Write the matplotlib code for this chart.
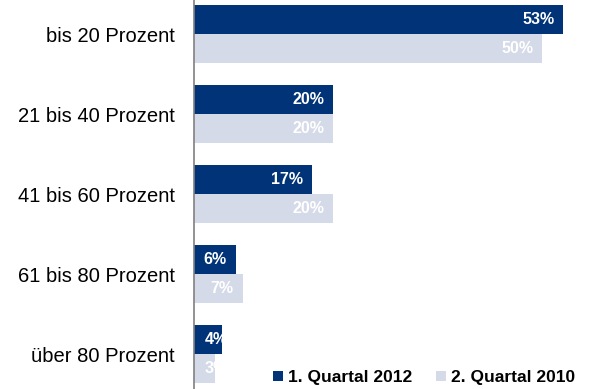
import matplotlib
matplotlib.use("Agg")
import matplotlib.pyplot as plt
import numpy as np
from matplotlib.patches import Patch

categories = ["bis 20 Prozent", "21 bis 40 Prozent", "41 bis 60 Prozent",
              "61 bis 80 Prozent", "über 80 Prozent"]
q1_2012 = [53, 20, 17, 6, 4]
q2_2010 = [50, 20, 20, 7, 3]
series_names = ["1. Quartal 2012", "2. Quartal 2010"]

DARK = "#003378"
LIGHT = "#D5DAE9"

plt.rcParams["font.family"] = ["Liberation Sans", "DejaVu Sans"]

fig = plt.figure(figsize=(5.91, 3.89), dpi=100)
ax = fig.add_axes([194 / 591, 0, 397 / 591, 1])

y = np.arange(len(categories))
h = 0.3625
off = 0.181

for vals, color, dy in [(q1_2012, DARK, -off), (q2_2010, LIGHT, off)]:
    bars = ax.barh(y + dy, vals, height=h, color=color, edgecolor="none")
    for b, v in zip(bars, vals):
        yc = b.get_y() + b.get_height() / 2
        if v <= 5:
            # short bars: label starts near the axis
            ax.annotate(f"{v}%", (0, yc), xytext=(11, 0), textcoords="offset pixels",
                        ha="left", va="center", color="white",
                        fontsize=11.5, fontweight="bold")
        else:
            ax.annotate(f"{v}%", (v, yc), xytext=(-9, 0), textcoords="offset pixels",
                        ha="right", va="center", color="white",
                        fontsize=11.5, fontweight="bold")

ax.set_xlim(0, 57)
ax.set_ylim(4.4375, -0.425)
ax.set_yticks(y)
ax.set_yticklabels(categories, fontsize=14.5)
ax.tick_params(axis="y", length=0, pad=14)
ax.set_xticks([])
for s in ["top", "right", "bottom"]:
    ax.spines[s].set_visible(False)
ax.spines["left"].set_color("#808080")
ax.spines["left"].set_linewidth(1.2)

handles = [Patch(facecolor=DARK, edgecolor="none"), Patch(facecolor=LIGHT, edgecolor="none")]
fig.legend(handles, series_names, ncol=2, frameon=False, loc="lower right",
           bbox_to_anchor=(1.0, -0.03), prop={"weight": "bold", "size": 12.5},
           handlelength=0.55, handleheight=0.55, handletextpad=0.3, columnspacing=1.4)

fig.savefig("out.png", dpi=100)
